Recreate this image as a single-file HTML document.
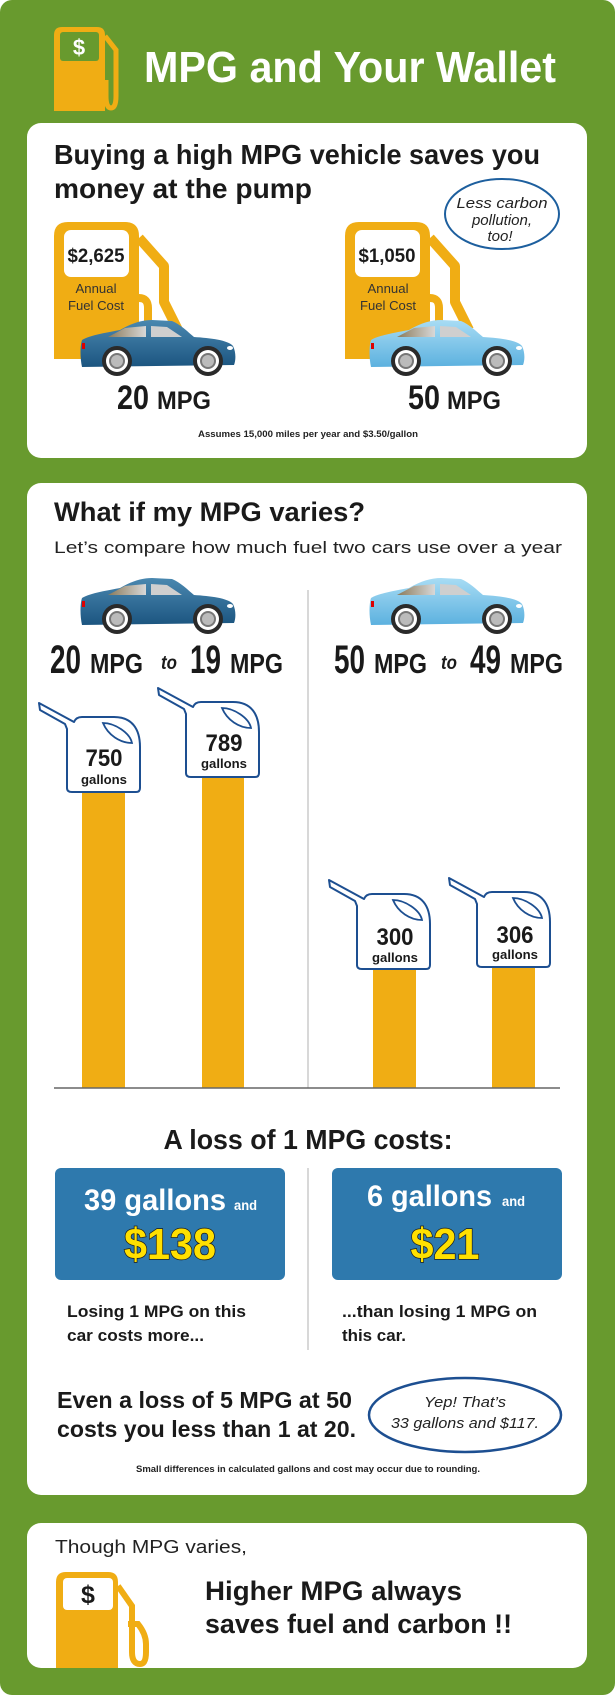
<!DOCTYPE html>
<html><head><meta charset="utf-8"><style>
html,body{margin:0;padding:0;background:#fff}
svg{display:block}
text{font-family:"Liberation Sans",sans-serif}
</style></head><body>
<svg width="615" height="1695" viewBox="0 0 615 1695" xmlns="http://www.w3.org/2000/svg">
<defs>
<linearGradient id="dk" x1="0" y1="0" x2="0" y2="1"><stop offset="0" stop-color="#4a88b0"/><stop offset="1" stop-color="#1c5580"/></linearGradient>
<linearGradient id="lt" x1="0" y1="0" x2="0" y2="1"><stop offset="0" stop-color="#a8dcf4"/><stop offset="1" stop-color="#5cb1df"/></linearGradient>
<linearGradient id="win" x1="0" y1="0" x2="1" y2="0"><stop offset="0" stop-color="#8a7a5a"/><stop offset="1" stop-color="#d8d8d8"/></linearGradient>
<g id="wheel"><circle r="15" fill="#2a2a2a"/><circle r="11" fill="#fff"/><circle r="8" fill="#777"/><circle r="6" fill="#bbb"/></g>
<g id="carshape">
<path d="M2,20 C10,15 30,12 40,10 C52,3 62,0 72,0 L92,1 C100,4 108,12 114,17 C130,18 148,20 153,26 C156,32 156,40 154,45 L2,47 C0,38 0,26 2,20 Z"/>
</g>
<g id="carwin">
<path d="M28,17 L45,8 L66,6 L66,17 Z" fill="url(#win)"/>
<path d="M71,6 L87,7 L102,17 L71,17 Z" fill="#cfcfcf"/>
<rect x="2" y="23" width="3" height="6" fill="#d00"/>
<ellipse cx="150" cy="28" rx="3" ry="2" fill="#fff"/>
<use href="#wheel" x="37" y="41"/><use href="#wheel" x="128" y="41"/>
</g>
<g id="can">
<path d="M-31,-14 L-30,-7 L-5,7 L-3,12 L-3,71 Q-3,75 2,75 L66,75 Q70,75 70,71 L70,30 C70,12 62,0 44,0 L12,0 Q6,0 4,5 Z" fill="#fff" stroke="#1d4f91" stroke-width="2" stroke-linejoin="round"/>
<path d="M33,6 C45,6 60,16 62,26 C50,26 38,18 33,6 Z" fill="none" stroke="#1d4f91" stroke-width="1.8"/>
</g>
<g id="pump">
<path d="M0,137 L0,14 Q0,0 14,0 L71,0 Q85,0 85,14 L85,137 Z" fill="#f0ad14"/>
<path d="M85,16 L110,44 L110,80 L124,108" fill="none" stroke="#f0ad14" stroke-width="10" stroke-linejoin="round"/>
<path d="M85,76 Q94,76 94,86 L94,135" fill="none" stroke="#f0ad14" stroke-width="8"/>
<rect x="10" y="8" width="65" height="47" rx="7" fill="#fff"/>
</g>
</defs>
<rect x="0" y="0" width="615" height="1695" rx="12" fill="#689a2e"/>
<!-- header pump -->
<path d="M54,111 L54,35 Q54,27 62,27 L97,27 Q105,27 105,35 L105,111 Z" fill="#f0ad14"/>
<path d="M105,36 L116,50 L116,96 Q116,108 111,108 Q106,108 106,96 L106,80" fill="none" stroke="#f0ad14" stroke-width="5"/>
<rect x="60" y="32" width="39" height="29" rx="3" fill="#689a2e"/>
<text x="79" y="55" font-size="22" font-weight="bold" fill="#fff" text-anchor="middle">$</text>
<text x="144" y="82" font-size="44" font-weight="bold" fill="#fff" textLength="412" lengthAdjust="spacingAndGlyphs">MPG and Your Wallet</text>
<!-- card 1 -->
<rect x="27" y="123" width="560" height="335" rx="14" fill="#fff"/>
<text x="54" y="164" font-size="28" font-weight="bold" fill="#1a1a1a" textLength="486" lengthAdjust="spacingAndGlyphs">Buying a high MPG vehicle saves you</text>
<text x="54" y="198" font-size="28" font-weight="bold" fill="#1a1a1a" textLength="258" lengthAdjust="spacingAndGlyphs">money at the pump</text>
<use href="#pump" x="54" y="222"/>
<text x="96" y="262" font-size="19" font-weight="bold" fill="#1a1a1a" text-anchor="middle" textLength="57" lengthAdjust="spacingAndGlyphs">$2,625</text>
<text x="96" y="293" font-size="13" fill="#333" text-anchor="middle" textLength="41" lengthAdjust="spacingAndGlyphs">Annual</text>
<text x="96" y="310" font-size="13" fill="#333" text-anchor="middle" textLength="56" lengthAdjust="spacingAndGlyphs">Fuel Cost</text>
<use href="#carshape" x="80" y="320" fill="url(#dk)"/><use href="#carwin" x="80" y="320"/>
<use href="#pump" x="345" y="222"/>
<text x="387" y="262" font-size="19" font-weight="bold" fill="#1a1a1a" text-anchor="middle" textLength="57" lengthAdjust="spacingAndGlyphs">$1,050</text>
<text x="388" y="293" font-size="13" fill="#333" text-anchor="middle" textLength="41" lengthAdjust="spacingAndGlyphs">Annual</text>
<text x="388" y="310" font-size="13" fill="#333" text-anchor="middle" textLength="56" lengthAdjust="spacingAndGlyphs">Fuel Cost</text>
<use href="#carshape" x="369" y="320" fill="url(#lt)"/><use href="#carwin" x="369" y="320"/>
<text x="117" y="409" font-size="34" font-weight="bold" fill="#1a1a1a" textLength="32" lengthAdjust="spacingAndGlyphs">20</text>
<text x="157" y="409" font-size="25" font-weight="bold" fill="#1a1a1a" textLength="54" lengthAdjust="spacingAndGlyphs">MPG</text>
<text x="408" y="409" font-size="34" font-weight="bold" fill="#1a1a1a" textLength="32" lengthAdjust="spacingAndGlyphs">50</text>
<text x="447" y="409" font-size="25" font-weight="bold" fill="#1a1a1a" textLength="54" lengthAdjust="spacingAndGlyphs">MPG</text>
<ellipse cx="502" cy="214" rx="57" ry="35" fill="#fff" stroke="#1d5f9e" stroke-width="2"/>
<text x="502" y="208" font-size="15" font-style="italic" fill="#222" text-anchor="middle" textLength="91" lengthAdjust="spacingAndGlyphs">Less carbon</text>
<text x="502" y="225" font-size="15" font-style="italic" fill="#222" text-anchor="middle">pollution,</text>
<text x="500" y="241" font-size="15" font-style="italic" fill="#222" text-anchor="middle">too!</text>
<text x="308" y="437" font-size="9" font-weight="bold" fill="#222" text-anchor="middle" textLength="220" lengthAdjust="spacingAndGlyphs">Assumes 15,000 miles per year and $3.50/gallon</text>
<!-- card 2 -->
<rect x="27" y="483" width="560" height="1012" rx="14" fill="#fff"/>
<text x="54" y="521" font-size="27" font-weight="bold" fill="#1a1a1a" textLength="311" lengthAdjust="spacingAndGlyphs">What if my MPG varies?</text>
<text x="54" y="553" font-size="17" fill="#222" textLength="508" lengthAdjust="spacingAndGlyphs">Let’s compare how much fuel two cars use over a year</text>
<line x1="308" y1="590" x2="308" y2="1088" stroke="#ccc" stroke-width="1.5"/>
<line x1="308" y1="1168" x2="308" y2="1350" stroke="#ccc" stroke-width="1.5"/>
<use href="#carshape" x="80" y="578" fill="url(#dk)"/><use href="#carwin" x="80" y="578"/>
<use href="#carshape" x="369" y="578" fill="url(#lt)"/><use href="#carwin" x="369" y="578"/>
<g font-weight="bold" fill="#1a1a1a">
<text x="50" y="673" font-size="40" textLength="31" lengthAdjust="spacingAndGlyphs">20</text>
<text x="90" y="673" font-size="28" textLength="53" lengthAdjust="spacingAndGlyphs">MPG</text>
<text x="161" y="669" font-size="19" font-style="italic" textLength="16" lengthAdjust="spacingAndGlyphs">to</text>
<text x="190" y="673" font-size="40" textLength="31" lengthAdjust="spacingAndGlyphs">19</text>
<text x="230" y="673" font-size="28" textLength="53" lengthAdjust="spacingAndGlyphs">MPG</text>
<text x="334" y="673" font-size="40" textLength="31" lengthAdjust="spacingAndGlyphs">50</text>
<text x="374" y="673" font-size="28" textLength="53" lengthAdjust="spacingAndGlyphs">MPG</text>
<text x="441" y="669" font-size="19" font-style="italic" textLength="16" lengthAdjust="spacingAndGlyphs">to</text>
<text x="470" y="673" font-size="40" textLength="31" lengthAdjust="spacingAndGlyphs">49</text>
<text x="510" y="673" font-size="28" textLength="53" lengthAdjust="spacingAndGlyphs">MPG</text>
</g>
<rect x="82" y="785" width="43" height="303" fill="#f0ad14"/>
<rect x="202" y="770" width="42" height="318" fill="#f0ad14"/>
<rect x="373" y="962" width="43" height="126" fill="#f0ad14"/>
<rect x="492" y="960" width="43" height="128" fill="#f0ad14"/>
<line x1="54" y1="1088" x2="560" y2="1088" stroke="#666" stroke-width="1.5"/>
<use href="#can" x="70" y="717"/>
<use href="#can" x="189" y="702"/>
<use href="#can" x="360" y="894"/>
<use href="#can" x="480" y="892"/>
<g font-weight="bold" fill="#1a1a1a" text-anchor="middle">
<text x="104" y="766" font-size="24" textLength="37" lengthAdjust="spacingAndGlyphs">750</text>
<text x="104" y="784" font-size="13" textLength="46" lengthAdjust="spacingAndGlyphs">gallons</text>
<text x="224" y="751" font-size="24" textLength="37" lengthAdjust="spacingAndGlyphs">789</text>
<text x="224" y="768" font-size="13" textLength="46" lengthAdjust="spacingAndGlyphs">gallons</text>
<text x="395" y="945" font-size="24" textLength="37" lengthAdjust="spacingAndGlyphs">300</text>
<text x="395" y="962" font-size="13" textLength="46" lengthAdjust="spacingAndGlyphs">gallons</text>
<text x="515" y="943" font-size="24" textLength="37" lengthAdjust="spacingAndGlyphs">306</text>
<text x="515" y="959" font-size="13" textLength="46" lengthAdjust="spacingAndGlyphs">gallons</text>
</g>
<text x="308" y="1149" font-size="28" font-weight="bold" fill="#1a1a1a" text-anchor="middle" textLength="289" lengthAdjust="spacingAndGlyphs">A loss of 1 MPG costs:</text>
<rect x="55" y="1168" width="230" height="112" rx="6" fill="#2e79ad"/>
<rect x="332" y="1168" width="230" height="112" rx="6" fill="#2e79ad"/>
<g font-weight="bold" fill="#fff">
<text x="84" y="1210" font-size="30" textLength="142" lengthAdjust="spacingAndGlyphs">39 gallons</text>
<text x="234" y="1210" font-size="14" textLength="23" lengthAdjust="spacingAndGlyphs">and</text>
<text x="367" y="1206" font-size="30" textLength="125" lengthAdjust="spacingAndGlyphs">6 gallons</text>
<text x="502" y="1206" font-size="14" textLength="23" lengthAdjust="spacingAndGlyphs">and</text>
</g>
<g font-weight="bold" fill="#ffe000" stroke="#1a1a1a" stroke-width="1.5" paint-order="stroke" text-anchor="middle">
<text x="170" y="1259" font-size="44" textLength="92" lengthAdjust="spacingAndGlyphs">$138</text>
<text x="445" y="1259" font-size="44" textLength="69" lengthAdjust="spacingAndGlyphs">$21</text>
</g>
<g font-weight="bold" fill="#1a1a1a" font-size="17">
<text x="67" y="1317" textLength="179" lengthAdjust="spacingAndGlyphs">Losing 1 MPG on this</text>
<text x="67" y="1341" textLength="137" lengthAdjust="spacingAndGlyphs">car costs more...</text>
<text x="342" y="1317" textLength="195" lengthAdjust="spacingAndGlyphs">...than losing 1 MPG on</text>
<text x="342" y="1341" textLength="64" lengthAdjust="spacingAndGlyphs">this car.</text>
<text x="57" y="1408" font-size="23" textLength="295" lengthAdjust="spacingAndGlyphs">Even a loss of 5 MPG at 50</text>
<text x="57" y="1437" font-size="23" textLength="299" lengthAdjust="spacingAndGlyphs">costs you less than 1 at 20.</text>
</g>
<ellipse cx="465" cy="1415" rx="96" ry="37" fill="#fff" stroke="#1d4f91" stroke-width="2.5"/>
<text x="465" y="1407" font-size="15" font-style="italic" fill="#222" text-anchor="middle" textLength="82" lengthAdjust="spacingAndGlyphs">Yep! That’s</text>
<text x="465" y="1428" font-size="15" font-style="italic" fill="#222" text-anchor="middle" textLength="148" lengthAdjust="spacingAndGlyphs">33 gallons and $117.</text>
<text x="308" y="1472" font-size="9.5" font-weight="bold" fill="#222" text-anchor="middle" textLength="344" lengthAdjust="spacingAndGlyphs">Small differences in calculated gallons and cost may occur due to rounding.</text>
<!-- card 3 -->
<clipPath id="c3"><rect x="27" y="1523" width="560" height="145" rx="14"/></clipPath>
<rect x="27" y="1523" width="560" height="145" rx="14" fill="#fff"/>
<text x="55" y="1553" font-size="18" fill="#222" textLength="192" lengthAdjust="spacingAndGlyphs">Though MPG varies,</text>
<g clip-path="url(#c3)">
<path d="M56,1700 L56,1582 Q56,1572 66,1572 L108,1572 Q118,1572 118,1582 L118,1700 Z" fill="#f0ad14"/>
<path d="M118,1586 L132,1606 L132,1652 Q132,1664 140,1664 Q146,1664 146,1652 L146,1644 Q146,1634 138,1624 L128,1624" fill="none" stroke="#f0ad14" stroke-width="6"/>
<rect x="63" y="1578" width="50" height="32" rx="4" fill="#fff"/>
</g>
<text x="88" y="1603" font-size="25" font-weight="bold" fill="#1a1a1a" text-anchor="middle">$</text>
<text x="205" y="1600" font-size="27" font-weight="bold" fill="#1a1a1a" textLength="257" lengthAdjust="spacingAndGlyphs">Higher MPG always</text>
<text x="205" y="1633" font-size="27" font-weight="bold" fill="#1a1a1a" textLength="307" lengthAdjust="spacingAndGlyphs">saves fuel and carbon !!</text>
</svg>
</body></html>
